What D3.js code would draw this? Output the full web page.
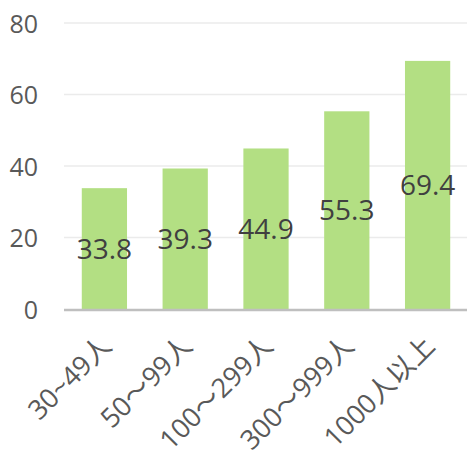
<!DOCTYPE html>
<html lang="zh">
<head>
<meta charset="utf-8">
<script src="https://cdn.jsdelivr.net/npm/d3@7"></script>
<style>
  body { margin: 0; background: #fff; }
  .tick text { font-family: "Open Sans", "Noto Sans CJK JP", sans-serif; }
  .val { font-family: "Open Sans", sans-serif; font-size: 28px; fill: #404040; text-anchor: middle; }
</style>
</head>
<body>
<script>
// data
var categories = ["30~49人", "50～99人", "100～299人", "300～999人", "1000人以上"];
var values = [33.8, 39.3, 44.9, 55.3, 69.4];
var yTicks = [0, 20, 40, 60, 80];

var w = 467, h = 450;
var svg = d3.select("body").append("svg").attr("width", w).attr("height", h);

var x = d3.scaleBand().domain(categories).range([64, 468]).paddingInner(0.44).paddingOuter(0.22);
var y = d3.scaleLinear().domain([0, 80]).range([309, 23]);

// gridlines
svg.append("g").selectAll("line").data(yTicks.slice(1)).enter().append("line")
  .attr("x1", 64).attr("x2", w)
  .attr("y1", function(d) { return y(d); }).attr("y2", function(d) { return y(d); })
  .attr("stroke", "#ebebeb").attr("stroke-width", 1.3);

// y labels
var yAxis = svg.append("g").attr("transform", "translate(38,0)")
  .call(d3.axisLeft(y).tickValues(yTicks).tickSize(0).tickPadding(0));
yAxis.select(".domain").remove();
yAxis.selectAll("text").attr("font-size", 25).attr("fill", "#595959").attr("dy", "0.36em");

// bars
svg.selectAll("rect.bar").data(values).enter().append("rect")
  .attr("class", "bar")
  .attr("x", function(d, i) { return x(categories[i]); })
  .attr("width", x.bandwidth())
  .attr("y", function(d) { return y(d); })
  .attr("height", function(d) { return y(0) - y(d); })
  .attr("fill", "#b3df83");

// baseline
svg.append("line").attr("x1", 64).attr("x2", w).attr("y1", y(0) + 1).attr("y2", y(0) + 1)
  .attr("stroke", "#bfbfbf").attr("stroke-width", 2.5);

// value labels
svg.selectAll("text.val").data(values).enter().append("text")
  .attr("class", "val")
  .attr("x", function(d, i) { return x(categories[i]) + x.bandwidth() / 2; })
  .attr("y", function(d) { return (y(d) + y(0)) / 2; })
  .attr("dy", "0.36em")
  .text(function(d) { return d.toFixed(1); });

// x labels
var xAxis = svg.append("g").attr("transform", "translate(0,309)")
  .call(d3.axisBottom(x).tickSize(0).tickPadding(0));
xAxis.select(".domain").remove();
xAxis.selectAll("text")
  .attr("font-size", 27).attr("fill", "#595959")
  .attr("text-anchor", "end")
  .attr("dy", "0.35em").attr("y", 0)
  .attr("transform", "translate(2,32) rotate(-45)");
</script>
</body>
</html>
